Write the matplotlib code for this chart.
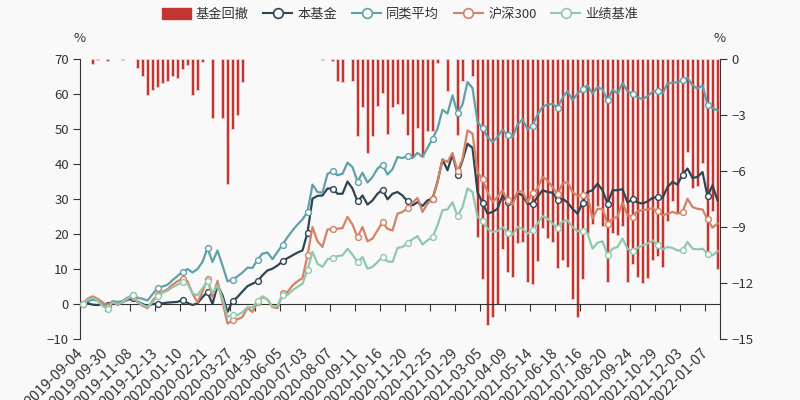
import matplotlib
matplotlib.use("Agg")
import matplotlib.pyplot as plt
import numpy as np
from matplotlib.lines import Line2D
from matplotlib.patches import Patch

plt.rcParams['font.family'] = ['Noto Sans CJK SC', 'DejaVu Sans']

BG = "#f9f9f9"
C_DD = "#c23531"
C_FUND = "#2f4554"
C_PEER = "#61a0a8"
C_HS300 = "#d48265"
C_BENCH = "#91c7ae"

tick_dates = ["2019-09-04", "2019-09-30", "2019-11-08", "2019-12-13", "2020-01-10",
              "2020-02-21", "2020-03-27", "2020-04-30", "2020-06-05", "2020-07-03",
              "2020-08-07", "2020-09-11", "2020-10-16", "2020-11-20", "2020-12-25",
              "2021-01-29", "2021-03-05", "2021-04-09", "2021-05-14", "2021-06-18",
              "2021-07-16", "2021-08-20", "2021-09-24", "2021-10-29", "2021-12-03",
              "2022-01-07"]

# 本基金 (%)
fund = [0, 0.3, -0.2, -0.3, 0.0, -0.3, 0.3, 0.2, 0.5, 1.2,
        1.6, 0.8, 0.0, -0.6, 0.0, 0.0, 0.2, 0.4, 0.5, 0.6,
        1.2, 0.3, -0.3, 0.2, 2.0, 3.4, 0.0, 5.3, 2.5, -2.3,
        0.8, 2.0, 3.6, 5.1, 5.8, 6.5, 8.2, 9.6, 10.1, 11.0,
        12.2, 13.1, 13.9, 14.7, 15.3, 20.4, 30.1, 30.9, 31.0, 33.0,
        33.0, 31.5, 31.5, 35.0, 33.0, 29.3, 31.0, 28.4, 29.6, 31.5,
        32.7, 29.9, 31.5, 32.0, 31.0, 29.3, 28.2, 29.1, 28.0, 29.6,
        30.1, 34.9, 41.3, 38.2, 42.7, 37.0, 41.0, 45.8, 44.6, 32.0,
        28.9, 25.8, 26.3, 27.2, 31.0, 29.1, 29.0, 31.8, 31.0, 28.7,
        28.5, 30.6, 32.5, 32.0, 31.8, 29.8, 30.1, 29.0, 27.2, 25.8,
        28.9, 32.0, 32.5, 34.4, 32.5, 28.7, 32.5, 32.5, 32.8, 29.0,
        29.9, 29.0, 28.7, 29.3, 30.3, 30.6, 30.3, 33.4, 34.9, 34.1,
        37.0, 38.7, 36.0, 36.3, 37.7, 30.8, 33.9, 29.6]

# 同类平均 (%)
peer = [0, 0.8, 1.2, 1.0, 0.3, -0.5, 0.8, 0.6, 0.8, 1.8,
        2.5, 1.8, 1.5, 1.0, 2.8, 4.5, 5.0, 5.5, 6.8, 8.0,
        9.2, 10.0, 9.0, 10.0, 12.0, 16.0, 12.0, 15.3, 11.0, 6.5,
        7.0, 7.9, 9.0, 10.4, 10.3, 12.7, 14.4, 14.7, 12.8, 14.9,
        17.0, 19.1, 21.0, 22.7, 24.2, 26.3, 34.1, 32.0, 31.8, 37.2,
        37.9, 36.8, 37.2, 40.4, 39.1, 35.0, 37.5, 34.7, 36.3, 38.7,
        39.8, 37.0, 38.5, 42.0, 41.7, 42.3, 41.7, 43.2, 42.0, 44.6,
        47.2, 50.1, 55.5, 54.4, 59.6, 54.6, 57.0, 63.4, 61.7, 52.0,
        50.3, 47.7, 46.3, 47.7, 49.8, 48.2, 47.7, 51.2, 52.8, 49.9,
        51.0, 54.1, 56.3, 57.0, 57.2, 56.1, 58.9, 60.8, 58.2, 60.1,
        61.3, 62.5, 60.1, 62.0, 61.3, 58.2, 61.3, 60.1, 63.2, 60.8,
        60.1, 59.1, 58.5, 59.4, 60.6, 61.0, 60.1, 63.0, 63.2, 63.4,
        63.9, 64.6, 62.5, 61.5, 62.5, 57.0, 56.0, 55.3]

# 沪深300 (%)
hs300 = [0, 1.5, 2.2, 1.5, 0.5, -0.8, 0.8, -0.3, 0.5, 1.5,
         2.2, 0.5, -0.5, -1.2, 1.0, 2.5, 3.5, 4.2, 5.5, 6.5,
         7.2, 6.5, 3.0, 0.5, 3.5, 7.2, 2.0, 6.6, 0.6, -5.6,
         -4.7, -4.4, -3.7, -1.1, -2.3, 0.5, 2.0, 1.3, -0.9, -1.2,
         3.1, 3.4, 5.3, 6.5, 7.4, 13.9, 22.0, 17.9, 16.3, 21.3,
         21.5, 21.5, 21.7, 24.9, 22.7, 19.1, 22.0, 17.9, 18.7, 21.0,
         23.4, 21.5, 21.0, 25.8, 26.3, 27.4, 29.0, 30.3, 26.3, 28.7,
         29.9, 34.9, 41.3, 40.6, 43.2, 37.9, 41.5, 49.6, 48.7, 37.7,
         35.6, 32.0, 29.1, 30.6, 32.5, 29.6, 28.4, 32.0, 32.2, 29.1,
         31.8, 33.0, 36.3, 35.3, 33.4, 31.5, 34.4, 34.9, 32.0, 30.9,
         31.2, 31.2, 24.4, 27.2, 27.2, 23.0, 24.4, 24.9, 29.0, 25.3,
         25.0, 26.5, 26.8, 27.0, 27.4, 26.5, 25.3, 25.8, 26.3, 25.8,
         26.3, 30.1, 27.7, 27.2, 27.0, 24.2, 21.8, 23.0]

# 业绩基准 (%)
bench = [0, 1.2, 1.8, 1.0, -0.5, -1.5, 0.5, 0.0, 0.5, 1.5,
         2.5, 0.8, -0.3, -0.8, 0.5, 2.2, 3.2, 3.8, 4.8, 5.5,
         6.3, 5.8, 3.0, 2.5, 4.5, 6.6, 3.0, 5.3, 1.5, -3.7,
         -3.0, -3.2, -2.3, -0.9, -1.0, 0.9, 2.2, 1.3, -0.9, -0.5,
         2.5, 2.6, 3.9, 4.9, 5.8, 9.8, 14.9, 11.5, 10.6, 12.8,
         13.1, 13.7, 13.9, 15.8, 14.1, 12.0, 13.4, 10.1, 10.6, 12.0,
         13.4, 12.2, 12.0, 16.0, 16.3, 17.5, 18.5, 19.4, 17.0, 18.2,
         19.1, 22.5, 26.8, 27.0, 29.1, 25.1, 27.7, 33.0, 32.0, 24.9,
         23.7, 21.5, 20.6, 20.8, 22.0, 20.4, 19.8, 22.0, 21.5, 20.1,
         21.2, 23.0, 25.1, 24.4, 23.0, 21.8, 23.6, 23.9, 22.0, 20.8,
         21.0, 20.2, 15.8, 17.5, 17.9, 14.1, 15.8, 16.3, 18.7, 15.8,
         15.1, 16.0, 16.8, 17.2, 18.2, 17.0, 15.6, 16.3, 16.0, 15.3,
         15.3, 17.7, 15.8, 15.6, 15.8, 14.4, 13.9, 15.1]

# 基金回撤 (%)
drawdown = [0, 0, -0.25, -0.05, 0, -0.1, 0, 0, -0.03, 0,
            0, -0.5, -0.93, -1.93, -1.64, -1.52, -1.30, -1.20, -0.89, -1.04,
            -0.54, -0.30, -1.93, -1.68, -0.14, 0, -3.18, 0, -3.18, -6.70,
            -3.75, -2.98, -1.21, 0, 0, 0, 0, 0, 0, 0,
            0, 0, 0, 0, 0, 0, 0, 0, -0.05, 0,
            -0.09, -1.20, -1.25, 0, -1.18, -4.14, -2.59, -5.05, -4.14, -2.50,
            -1.82, -4.02, -2.59, -2.41, -2.95, -4.07, -5.27, -3.71, -5.27, -3.84,
            -3.84, -0.21, 0, -1.70, 0, -4.07, -1.16, 0, -0.93, -9.55,
            -11.79, -14.25, -13.80, -13.13, -10.18, -11.39, -11.66, -9.88, -9.82, -11.96,
            -12.07, -10.82, -9.05, -9.57, -9.82, -11.20, -10.77, -11.16, -12.86, -13.84,
            -11.79, -9.34, -8.84, -7.89, -8.93, -11.96, -9.32, -9.41, -8.96, -11.93,
            -10.98, -11.70, -12.02, -11.75, -10.75, -10.54, -11.16, -8.66, -7.59, -8.27,
            -6.25, -5.00, -6.93, -6.79, -5.59, -10.40, -8.16, -11.25]

n = len(fund)
x = np.arange(n)

fig = plt.figure(figsize=(8, 4), dpi=100, facecolor=BG)
ax = fig.add_axes([0.1, 0.1525, 0.8, 0.7])
ax2 = ax.twinx()
ax.set_zorder(ax2.get_zorder() + 1)
ax.patch.set_visible(False)
ax2.patch.set_visible(True)
ax2.patch.set_facecolor(BG)

# 回撤柱 (右轴)
dd = np.array(drawdown)
m = dd != 0
ax2.bar(x[m], dd[m], width=0.72, color=C_DD, edgecolor="#f0c8c8", linewidth=0.7)
ax2.set_ylim(-15, 0)
ax2.set_yticks([0, -3, -6, -9, -12, -15])

# 收益曲线 (左轴)
for vals, c in [(fund, C_FUND), (peer, C_PEER), (hs300, C_HS300), (bench, C_BENCH)]:
    ax.plot(x, vals, color=c, lw=1.6, marker="o", markevery=5, ms=4.2,
            mfc="white", mec=c, mew=1.0, zorder=3)
ax.set_ylim(-10, 70)
ax.set_yticks(range(-10, 71, 10))
ax.set_xlim(-0.5, n - 0.5)

axis_c = "#333333"
for s in ["top", "right"]:
    ax.spines[s].set_visible(False)
for s in ["top", "left", "bottom"]:
    ax2.spines[s].set_visible(False)
ax.spines["bottom"].set_position(("data", 0))
ax.spines["bottom"].set_color(axis_c)
ax.spines["left"].set_color(axis_c)
ax2.spines["right"].set_color(axis_c)

# x 轴: 线在 0 处, 标签在网格底部
pos = np.arange(0, n, 5)
ax.set_xticks(pos - 0.5)
ax.set_xticklabels([])
ax.tick_params(axis="x", length=5, color=axis_c, direction="out")
for p, lab in zip(pos, tick_dates):
    ax.text(p - 0.3, -0.042, lab, transform=ax.get_xaxis_transform(),
            rotation=45, ha="right", va="center", rotation_mode="anchor",
            fontsize=10.5, color=axis_c)

ax.tick_params(axis="y", length=5, color=axis_c, labelsize=9.5, labelcolor=axis_c, pad=3)
ax2.tick_params(axis="y", length=5, color=axis_c, labelsize=9.5, labelcolor=axis_c, pad=3)

fig.text(0.1, 0.905, "%", ha="center", va="center", fontsize=9.5, color=axis_c)
fig.text(0.9, 0.905, "%", ha="center", va="center", fontsize=9.5, color=axis_c)

handles = [Patch(facecolor=C_DD, edgecolor=C_DD)]
for c in [C_FUND, C_PEER, C_HS300, C_BENCH]:
    handles.append(Line2D([], [], color=c, lw=1.5, marker="o", ms=7,
                          mfc=BG, mec=c, mew=1.2))
fig.legend(handles, ["基金回撤", "本基金", "同类平均", "沪深300", "业绩基准"],
           loc="upper center", bbox_to_anchor=(0.5, 1.01), ncol=5, frameon=False,
           fontsize=9.5, handlelength=2.2, handleheight=0.9, columnspacing=1.1,
           handletextpad=0.4, labelcolor=axis_c)

fig.savefig("out.png", dpi=100, facecolor=BG)
